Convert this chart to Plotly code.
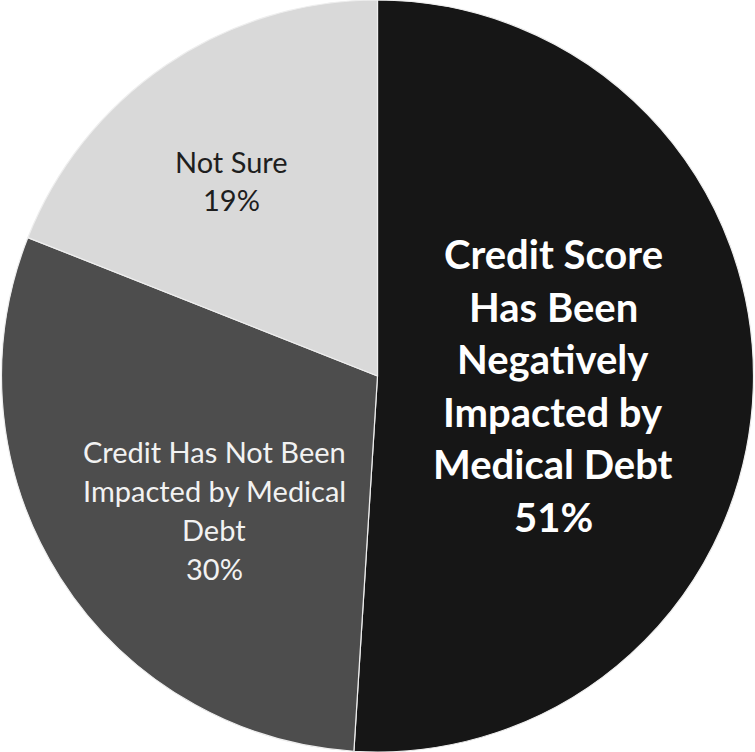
import plotly.graph_objects as go

labels = ["Credit Score Has Been Negatively Impacted by Medical Debt",
          "Credit Has Not Been Impacted by Medical Debt",
          "Not Sure"]
values = [51, 30, 19]
label_lines = [
    ["Credit Score", "Has Been", "Negatively", "Impacted by", "Medical Debt"],
    ["Credit Has Not Been", "Impacted by Medical", "Debt"],
    ["Not Sure"],
]
colors = ["#161616", "#4d4d4d", "#d9d9d9"]
text_colors = ["white", "#f2f2f2", "#1e1e1e"]

W, H = 755, 752
# label layout (pixel centre x, first line y, line gap, font size, bold)
label_layout = [
    (553, 254, 52.5, 40, True),
    (214, 451, 39.3, 29, False),
    (231, 161, 38, 29, False),
]

fig = go.Figure(go.Pie(
    labels=labels, values=values, sort=False, direction="clockwise", rotation=0,
    marker=dict(colors=colors, line=dict(color="#eeeeee", width=1.2)),
    textinfo="none", hoverinfo="label+percent", showlegend=False,
    domain=dict(x=[0, 1], y=[0, 1]),
))

annotations = []
for i, lines in enumerate(label_lines):
    cx, y0, gap, fs, bold = label_layout[i]
    all_lines = lines + [f"{values[i]}%"]
    for j, ln in enumerate(all_lines):
        txt = f"<b>{ln}</b>" if bold else ln
        annotations.append(dict(
            x=cx / W, y=1 - (y0 + j * gap) / H, xref="paper", yref="paper",
            text=txt, showarrow=False, xanchor="center", yanchor="middle",
            font=dict(family="Lato, Open Sans, sans-serif", size=fs, color=text_colors[i]),
        ))

fig.update_layout(
    width=W, height=H, margin=dict(l=0, r=0, t=0, b=0),
    paper_bgcolor="white", plot_bgcolor="white",
    annotations=annotations,
)
fig.write_html("out.html", config={"displayModeBar": False},
               post_script="document.body.style.margin='0';document.body.style.overflow='hidden';")
